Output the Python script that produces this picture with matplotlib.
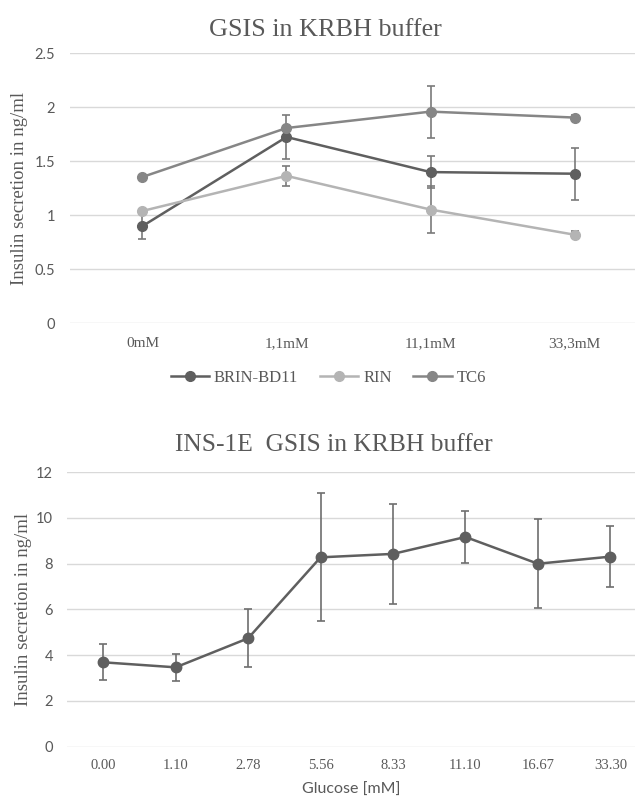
import numpy as np
import matplotlib.pyplot as plt
from matplotlib.lines import Line2D

# top chart: three cell lines
conditions = ['0mM', '1,1mM', '11,1mM', '33,3mM']
brin = [0.90, 1.725, 1.40, 1.385]
brin_err = [0.12, 0.20, 0.145, 0.24]
rin = [1.04, 1.365, 1.053, 0.82]
rin_err = [0.01, 0.095, 0.22, 0.03]
tc6 = [1.355, 1.808, 1.96, 1.905]
tc6_err = [0.01, 0.02, 0.24, 0.025]

# bottom chart: INS-1E
glucose = ['0.00', '1.10', '2.78', '5.56', '8.33', '11.10', '16.67', '33.30']
ins1e = [3.69, 3.47, 4.74, 8.28, 8.43, 9.17, 8.00, 8.31]
ins1e_err = [0.78, 0.59, 1.26, 2.80, 2.18, 1.15, 1.95, 1.34]

txt = '#595959'
grid = '#d9d9d9'
serif = 'Liberation Serif'
sans = 'Lato'

fig = plt.figure(figsize=(6.35, 7.98), dpi=100)
ax1 = fig.add_axes([0.111, 0.5949, 0.889, 0.3383])
ax2 = fig.add_axes([0.1055, 0.0643, 0.8945, 0.3439])


def style(ax):
    for s in ax.spines.values():
        s.set_visible(False)
    ax.grid(axis='y', color=grid, lw=1.0)
    ax.set_axisbelow(True)
    ax.tick_params(length=0, colors=txt)
    for lab in ax.get_yticklabels():
        lab.set_fontfamily(sans)
    for lab in ax.get_xticklabels():
        lab.set_fontfamily(serif)


x1 = np.arange(len(conditions))
series = [('BRIN-BD11', brin, brin_err, '#5f5f5f'),
          ('RIN', rin, rin_err, '#b4b4b4'),
          ('TC6', tc6, tc6_err, '#868686')]
handles = []
for name, vals, err, col in series:
    ax1.errorbar(x1, vals, yerr=err, color=col, lw=1.8, marker='o', ms=7,
                 ecolor='#7a7a7a', elinewidth=1.2, capsize=3, capthick=1.2)
    handles.append(Line2D([], [], color=col, lw=1.8, marker='o', ms=7,
                          label=name))
ax1.set_xlim(-0.5, 3.42)
ax1.set_ylim(0, 2.5)
ax1.set_yticks([0, 0.5, 1, 1.5, 2, 2.5])
ax1.set_yticklabels(['0', '0.5', '1', '1.5', '2', '2.5'], fontsize=10.5)
ax1.set_xticks(x1)
ax1.set_xticklabels(conditions, fontsize=11)
ax1.tick_params(axis='y', pad=11)
ax1.tick_params(axis='x', pad=10)
ax1.set_ylabel('Insulin secretion in ng/ml', family=serif, fontsize=13.5,
               color=txt, labelpad=5)
style(ax1)

x2 = np.arange(len(glucose))
ax2.errorbar(x2, ins1e, yerr=ins1e_err, color='#5f5f5f', lw=1.8, marker='o',
             ms=7.5, ecolor='#6e6e6e', elinewidth=1.2, capsize=3, capthick=1.2)
ax2.set_xlim(-0.5, 7.34)
ax2.set_ylim(0, 12)
ax2.set_yticks(range(0, 13, 2))
ax2.set_yticklabels([str(v) for v in range(0, 13, 2)], fontsize=10.5)
ax2.set_xticks(x2)
ax2.set_xticklabels(glucose, fontsize=10.5)
ax2.tick_params(axis='y', pad=10)
ax2.tick_params(axis='x', pad=9)
ax2.set_ylabel('Insulin secretion in ng/ml', family=serif, fontsize=13.5,
               color=txt, labelpad=3)
ax2.set_xlabel('Glucose [mM]', family=sans, fontsize=11.5, color=txt,
               labelpad=8)
style(ax2)

fig.text(0.513, 1 - 30 / 798, 'GSIS in KRBH buffer', family=serif,
         fontsize=18.8, color=txt, ha='center', va='center')
fig.text(0.526, 1 - 445 / 798, 'INS-1E  GSIS in KRBH buffer', family=serif,
         fontsize=18.4, color=txt, ha='center', va='center')

leg = fig.legend(handles=handles, loc='center', ncol=3,
                 bbox_to_anchor=(0.517, 1 - 378 / 798), frameon=False,
                 prop={'family': serif, 'size': 12}, handlelength=2.3,
                 columnspacing=1.3, handletextpad=0.3)
for t in leg.get_texts():
    t.set_color(txt)

fig.savefig('out.png', dpi=100)
